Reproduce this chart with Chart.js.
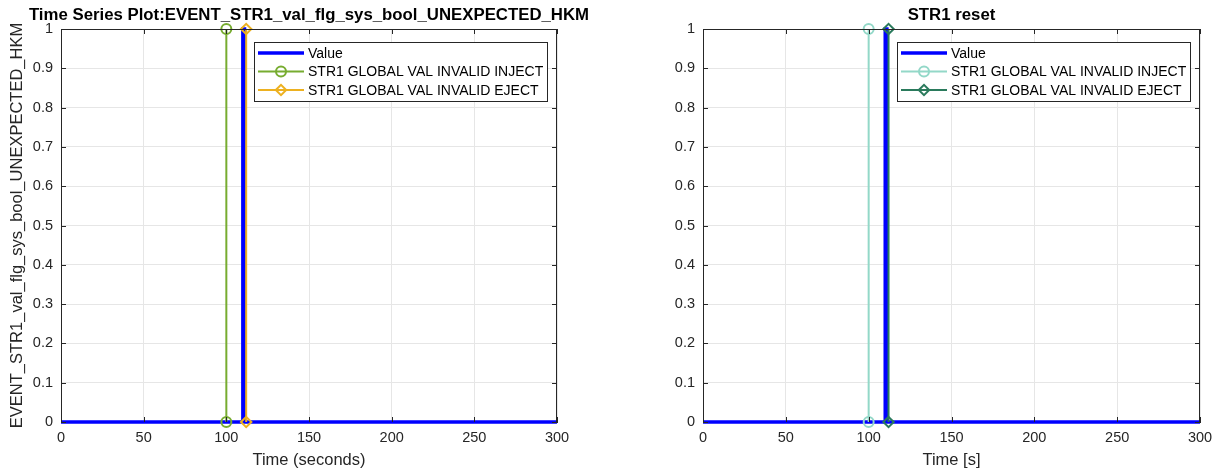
<!DOCTYPE html>
<html lang="en">
<head>
<meta charset="UTF-8">
<script src="https://cdn.jsdelivr.net/npm/chart.js@4.4.0/dist/chart.umd.min.js"></script>
<title>STR1 event plots</title>
<style>
  body { margin: 0; background: #fff; }
  canvas { position: absolute; top: 0; }
</style>
</head>
<body>
<canvas id="leftChart" width="611" height="471" style="left:0"></canvas>
<canvas id="rightChart" width="612" height="471" style="left:611px"></canvas>
<script>
// data
var valueTime  = [0, 110, 110, 111, 111, 300];
var valueLevel = [0, 0, 1, 1, 0, 0];
var injectTime  = [100, 100];
var injectLevel = [0, 1];
var ejectTime  = [112, 112];
var ejectLevel = [0, 1];
var xTicks = [0, 50, 100, 150, 200, 250, 300];
var yTicks = [0, 0.1, 0.2, 0.3, 0.4, 0.5, 0.6, 0.7, 0.8, 0.9, 1];

var FONT = "'Liberation Sans', Arial, sans-serif";
var AXIS = '#262626';

function pts(xs, ys) {
  return xs.map(function (x, i) { return { x: x, y: ys[i] }; });
}

// box, inward ticks, title and legend drawn on top of the chart
var extras = {
  id: 'extras',
  afterDraw: function (chart) {
    var ctx = chart.ctx, a = chart.chartArea, o = chart.options.plugins.extras;
    var sx = chart.scales.x, sy = chart.scales.y;
    ctx.save();
    ctx.strokeStyle = AXIS;
    ctx.lineWidth = 1;
    ctx.beginPath();
    ctx.moveTo(a.left, a.top + 0.5); ctx.lineTo(a.right, a.top + 0.5);
    ctx.moveTo(a.right - 0.5, a.top); ctx.lineTo(a.right - 0.5, a.bottom);
    xTicks.forEach(function (t) {
      var px = Math.round(sx.getPixelForValue(t)) + 0.5;
      ctx.moveTo(px, a.bottom); ctx.lineTo(px, a.bottom - 5);
      ctx.moveTo(px, a.top); ctx.lineTo(px, a.top + 5);
    });
    yTicks.forEach(function (t) {
      var py = Math.round(sy.getPixelForValue(t)) + 0.5;
      ctx.moveTo(a.left, py); ctx.lineTo(a.left + 5, py);
      ctx.moveTo(a.right, py); ctx.lineTo(a.right - 5, py);
    });
    ctx.stroke();

    // title
    ctx.fillStyle = '#000';
    ctx.font = 'bold 16.8px ' + FONT;
    ctx.textAlign = 'center';
    ctx.textBaseline = 'middle';
    ctx.fillText(o.title, (a.left + a.right) / 2, 15);

    // legend
    var bw = 293, bh = 59;
    var bx = a.right - 10 - bw, by = a.top + 13;
    ctx.fillStyle = '#fff';
    ctx.fillRect(bx, by, bw, bh);
    ctx.strokeStyle = '#262626';
    ctx.lineWidth = 1;
    ctx.strokeRect(bx + 0.5, by + 0.5, bw, bh);
    var rows = [11, 29.5, 48];
    ctx.font = '14px ' + FONT;
    ctx.textAlign = 'left';
    chart.data.datasets.forEach(function (ds, i) {
      var y = by + rows[i];
      ctx.strokeStyle = ds.borderColor;
      ctx.lineWidth = ds.borderWidth;
      ctx.beginPath();
      ctx.moveTo(bx + 4, y); ctx.lineTo(bx + 50, y);
      ctx.stroke();
      if (ds.pointStyle && ds.pointRadius > 0) {
        ctx.fillStyle = 'rgba(0,0,0,0)';
        ctx.lineWidth = ds.pointBorderWidth;
        Chart.helpers.drawPoint(ctx, {
          pointStyle: ds.pointStyle, radius: ds.pointRadius,
          borderWidth: ds.pointBorderWidth, rotation: 0
        }, bx + 27, y);
      }
      ctx.fillStyle = '#000';
      ctx.fillText(ds.label, bx + 54, y + 1);
    });
    ctx.restore();
  }
};

function makeChart(id, title, xTitle, yTitle, yWidth, padRight, injectColor, ejectColor) {
  return new Chart(document.getElementById(id), {
    type: 'line',
    data: {
      datasets: [{
        label: 'Value',
        data: pts(valueTime, valueLevel),
        borderColor: '#0000ff',
        borderWidth: 3.5,
        pointRadius: 0,
        pointStyle: false,
        clip: false,
        order: 3
      }, {
        label: 'STR1 GLOBAL VAL INVALID INJECT',
        data: pts(injectTime, injectLevel),
        borderColor: injectColor,
        backgroundColor: 'rgba(0,0,0,0)',
        borderWidth: 2,
        pointStyle: 'circle',
        pointRadius: 5,
        pointBorderWidth: 2,
        pointBackgroundColor: 'rgba(0,0,0,0)',
        clip: false,
        order: 2
      }, {
        label: 'STR1 GLOBAL VAL INVALID EJECT',
        data: pts(ejectTime, ejectLevel),
        borderColor: ejectColor,
        backgroundColor: 'rgba(0,0,0,0)',
        borderWidth: 2,
        pointStyle: 'rectRot',
        pointRadius: 5.2,
        pointBorderWidth: 2,
        pointBackgroundColor: 'rgba(0,0,0,0)',
        clip: false,
        order: 1
      }]
    },
    options: {
      responsive: false,
      animation: false,
      layout: { padding: { left: 0, right: padRight, top: 29, bottom: 0 } },
      plugins: {
        legend: { display: false },
        tooltip: { enabled: false },
        extras: { title: title }
      },
      scales: {
        x: {
          type: 'linear', min: 0, max: 300,
          afterBuildTicks: function (s) { s.ticks = xTicks.map(function (v) { return { value: v }; }); },
          afterFit: function (s) { s.height = 49; },
          grid: { color: '#e6e6e6', drawTicks: false },
          border: { color: AXIS },
          ticks: { color: AXIS, padding: 7, font: { family: FONT, size: 14.5 }, maxRotation: 0 },
          title: { display: true, text: xTitle, color: AXIS, font: { family: FONT, size: 16.5 }, padding: { top: 2, bottom: 1 } }
        },
        y: {
          min: 0, max: 1,
          afterBuildTicks: function (s) { s.ticks = yTicks.map(function (v) { return { value: v }; }); },
          afterFit: function (s) { s.width = yWidth; },
          grid: { color: '#e6e6e6', drawTicks: false },
          border: { color: AXIS },
          ticks: {
            color: AXIS, padding: 8, font: { family: FONT, size: 14.5 },
            callback: function (v) { return String(+v.toFixed(1)); }
          },
          title: { display: yTitle !== '', text: yTitle, color: AXIS, font: { family: FONT, size: 16.5 }, padding: { top: 8, bottom: 0 } }
        }
      }
    },
    plugins: [extras]
  });
}

makeChart('leftChart', 'Time Series Plot:EVENT_STR1_val_flg_sys_bool_UNEXPECTED_HKM',
  'Time (seconds)', 'EVENT_STR1_val_flg_sys_bool_UNEXPECTED_HKM', 61, 54, '#77ac30', '#edb120');
makeChart('rightChart', 'STR1 reset', 'Time [s]', '', 92, 23, '#93d8c8', '#2a7a5c');
</script>
</body>
</html>
